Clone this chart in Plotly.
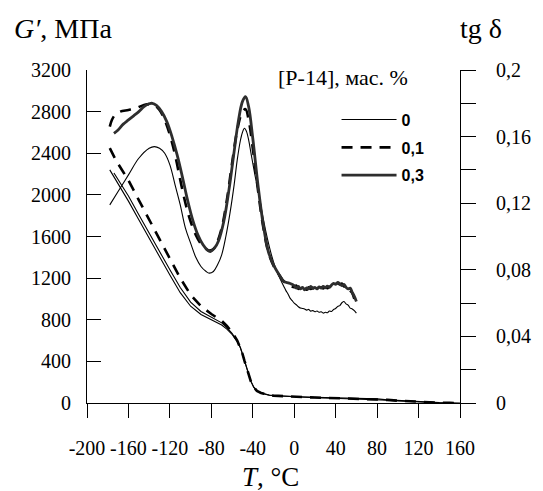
import plotly.graph_objects as go

# temperature grid / values
t_x_ticks = [-200, -160, -120, -80, -40, 0, 40, 80, 120, 160]
t_x_text = ["-200", "-160", "-120", "-80", "-40", "0", "40", "80", "120", "160"]
g_ticks = [0, 400, 800, 1200, 1600, 2000, 2400, 2800, 3200]
tg_ticks = [0, 0.02, 0.04, 0.06, 0.08, 0.1, 0.12, 0.14, 0.16, 0.18, 0.2]
tg_text = ["0", "", "0,04", "", "0,08", "", "0,12", "", "0,16", "", "0,2"]

# tg delta, [P-14] = 0
tg0_T = [-178, -170, -160, -150, -140, -135, -130, -125, -120, -115, -110, -105, -100, -95, -90, -85, -82,
         -78, -74, -70, -66, -62, -58, -55, -52, -50, -48, -46, -44, -42, -40, -37, -34, -30, -26, -22,
         -18, -14, -10, -8, -6, -4, -2, 0, 2, 4, 6, 8, 10, 12, 14, 16, 18, 20, 22, 24, 26, 28, 30, 32,
         34, 36, 38, 40, 42, 44, 46, 48, 50, 52, 54, 56, 58, 60]
tg0 = [0.119, 0.127, 0.137, 0.147, 0.153, 0.154, 0.153, 0.150, 0.143, 0.131, 0.119, 0.105, 0.096, 0.0875,
       0.082, 0.079, 0.078, 0.079, 0.083, 0.089, 0.100, 0.114, 0.131, 0.146, 0.1575, 0.1625, 0.165, 0.163,
       0.158, 0.151, 0.144, 0.134, 0.125, 0.111, 0.099, 0.089, 0.081, 0.075, 0.070, 0.0675, 0.0655, 0.063,
       0.0615, 0.060, 0.059, 0.0578, 0.057, 0.0568, 0.0565, 0.0558, 0.0562, 0.0552, 0.0555, 0.0548, 0.0553,
       0.0545, 0.0548, 0.054, 0.0545, 0.0542, 0.0552, 0.055, 0.0562, 0.0568, 0.058, 0.0585, 0.0602, 0.061,
       0.0595, 0.0588, 0.057, 0.0565, 0.0555, 0.054]

# tg delta, [P-14] = 0,1
tg1_T = [-178, -176, -173, -168, -160, -153, -145, -140, -135, -130, -125, -120, -115, -110, -105, -100,
         -95, -90, -85, -82, -78, -75, -70, -65, -60, -55, -50, -47, -44, -40, -35, -30, -25, -20, -15,
         -10, -5, 0, 2, 4, 6, 8, 10, 12, 14, 16, 18, 20, 22, 24, 26, 28, 30, 32, 34, 36, 38, 40, 42, 44,
         46, 48, 50, 52, 54, 56, 58]
tg1 = [0.166, 0.170, 0.173, 0.175, 0.176, 0.177, 0.179, 0.1795, 0.179, 0.176, 0.170, 0.161, 0.149, 0.134,
       0.120, 0.109, 0.101, 0.0956, 0.0925, 0.0915, 0.0925, 0.0956, 0.105, 0.122, 0.144, 0.164, 0.175,
       0.1765, 0.170, 0.153, 0.128, 0.106, 0.0906, 0.0825, 0.0775, 0.073, 0.071, 0.0695, 0.0705, 0.0685,
       0.070, 0.0688, 0.069, 0.068, 0.0695, 0.0685, 0.0692, 0.068, 0.0692, 0.0685, 0.0695, 0.0688, 0.0695,
       0.069, 0.070, 0.0695, 0.0712, 0.0715, 0.072, 0.0712, 0.0718, 0.070, 0.0705, 0.069, 0.0675, 0.066,
       0.0625]

# tg delta, [P-14] = 0,3
tg3_T = [-174, -170, -165, -160, -155, -150, -145, -140, -137, -133, -128, -123, -118, -113, -108, -103,
         -98, -93, -88, -84, -81, -77, -73, -68, -63, -58, -54, -50, -47, -44, -40, -35, -30, -25, -20,
         -15, -10, -5, 0, 2, 4, 6, 8, 10, 12, 14, 16, 18, 20, 22, 24, 26, 28, 30, 32, 34, 36, 38, 40, 42,
         44, 46, 48, 50, 52, 54, 56, 58, 60]
tg3 = [0.162, 0.164, 0.1675, 0.170, 0.1725, 0.175, 0.178, 0.1797, 0.180, 0.1787, 0.175, 0.169, 0.160,
       0.149, 0.136, 0.122, 0.110, 0.101, 0.095, 0.092, 0.091, 0.093, 0.0975, 0.109, 0.128, 0.151, 0.169,
       0.181, 0.184, 0.178, 0.159, 0.131, 0.1075, 0.091, 0.083, 0.0775, 0.073, 0.072, 0.0705, 0.069, 0.070,
       0.0685, 0.0695, 0.068, 0.0692, 0.0685, 0.070, 0.0688, 0.0695, 0.0685, 0.0698, 0.069, 0.070, 0.0692,
       0.0702, 0.0695, 0.0708, 0.0718, 0.0712, 0.0725, 0.0715, 0.0705, 0.0712, 0.0695, 0.0685, 0.069,
       0.0665, 0.064, 0.061]

# G', MPa
g0_T = [-178, -170, -160, -150, -140, -130, -120, -110, -100, -90, -80, -70, -65, -60, -55, -52, -50, -48,
        -45, -42, -39, -36, -32, -28, -24, -20, -10, 0, 10, 20, 30, 40, 50, 60, 70, 80, 90, 100, 110, 120,
        130, 140, 150]
g0 = [2240, 2110, 1940, 1760, 1580, 1400, 1230, 1060, 930, 850, 800, 750, 710, 660, 590, 530, 470, 400,
      300, 210, 150, 115, 95, 82, 74, 70, 64, 60, 56, 52, 48, 45, 42, 40, 38, 34, 26, 20, 14, 8, 4, 2, 0]

g1_T = [-178, -172, -165, -160, -150, -140, -130, -120, -110, -100, -90, -80, -70, -65, -60, -55, -52, -50,
        -48, -45, -42, -39, -36, -32, -28, -24, -20, -10, 0, 10, 20, 30, 40, 50, 60, 70, 80, 90, 100, 110,
        120, 130, 140, 150, 160]
g1 = [2450, 2330, 2220, 2140, 1950, 1760, 1570, 1390, 1200, 1040, 930, 855, 790, 740, 680, 600, 535, 475,
      405, 305, 212, 152, 116, 96, 83, 75, 71, 64, 60, 56, 53, 50, 47, 45, 43, 40, 36, 30, 22, 16, 10, 6,
      3, 1, 0]

g3_T = [-174, -170, -160, -150, -140, -130, -120, -110, -100, -90, -80, -70, -65, -60, -55, -52, -50, -48,
        -45, -42, -39, -36, -32, -28, -24, -20, -10, 0, 10, 20, 30, 40, 50, 60, 70, 80, 90, 100, 110, 120,
        130, 140, 150, 160]
g3 = [2210, 2150, 1990, 1810, 1630, 1450, 1280, 1110, 970, 880, 825, 770, 725, 670, 595, 535, 475, 405,
      305, 215, 152, 118, 97, 84, 76, 72, 65, 61, 57, 54, 50, 48, 46, 44, 42, 40, 30, 24, 18, 12, 8, 4, 2, 0]

serif = "Liberation Serif"
styles = {
    "0": dict(color="black", width=1.1),
    "0,1": dict(color="black", width=2.6, dash="11px,8px"),
    "0,3": dict(color="#2e2e2e", width=2.8),
}

fig = go.Figure()
for name, tx, gy in [("0", g0_T, g0), ("0,1", g1_T, g1), ("0,3", g3_T, g3)]:
    st = dict(styles[name])
    if name == "0,3":
        st = dict(color="black", width=1.1)
    fig.add_trace(go.Scatter(x=tx, y=gy, mode="lines", line=st, showlegend=False, hoverinfo="skip"))

for name, tx, ty in [("0", tg0_T, tg0), ("0,1", tg1_T, tg1), ("0,3", tg3_T, tg3)]:
    fig.add_trace(go.Scatter(x=tx, y=ty, mode="lines", name=name, yaxis="y2", line=styles[name],
                             legendgroup=name, line_shape="spline"))

axfont = dict(family=serif, size=20, color="black")
# page body has an 8px margin, so the figure is 8px smaller than the window
fig.update_layout(
    width=535, height=483,
    margin=dict(l=79, r=70, t=62, b=88),
    paper_bgcolor="white", plot_bgcolor="white",
    font=axfont,
    xaxis=dict(range=[-200, 160], tickvals=t_x_ticks, ticktext=t_x_text, showline=True, linecolor="black",
               linewidth=1, ticks="outside", ticklen=14, tickcolor="black", showgrid=False, zeroline=False,
               ticklabelstandoff=13, tickfont=axfont),
    yaxis=dict(range=[0, 3200], tickvals=g_ticks, showline=True, linecolor="black", linewidth=1,
               ticks="inside", ticklen=14, tickcolor="black", showgrid=False, zeroline=False,
               ticklabelstandoff=11, tickfont=axfont),
    yaxis2=dict(range=[0, 0.2], overlaying="y", side="right", tickvals=tg_ticks, ticktext=tg_text,
                showline=True, linecolor="black", linewidth=1, ticks="outside", ticklen=15,
                tickcolor="black", showgrid=False, zeroline=False, ticklabelstandoff=16, tickfont=axfont),
    legend=dict(x=0.669, y=0.902, xanchor="left", yanchor="top", bgcolor="rgba(0,0,0,0)",
                font=dict(family="Liberation Sans", size=16, color="black", weight="bold"),
                itemwidth=55, traceorder="grouped", tracegroupgap=4),
    annotations=[
        dict(text="<i>G′</i>, МПа", xref="paper", yref="paper", x=-0.2, y=1.126, xanchor="left",
             yanchor="middle", showarrow=False, font=dict(family=serif, size=28)),
        dict(text="tg δ", xref="paper", yref="paper", x=0.995, y=1.126, xanchor="left",
             yanchor="middle", showarrow=False, font=dict(family=serif, size=28)),
        dict(text="<i>T</i>, °C", xref="paper", yref="paper", x=0.493, y=-0.223, xanchor="center",
             yanchor="middle", showarrow=False, font=dict(family=serif, size=27)),
        dict(text="[P-14], мас. %", xref="paper", yref="paper", x=0.507, y=0.9775, xanchor="left",
             yanchor="middle", showarrow=False, font=dict(family=serif, size=22)),
    ],
)

fig.write_html("out.html")
